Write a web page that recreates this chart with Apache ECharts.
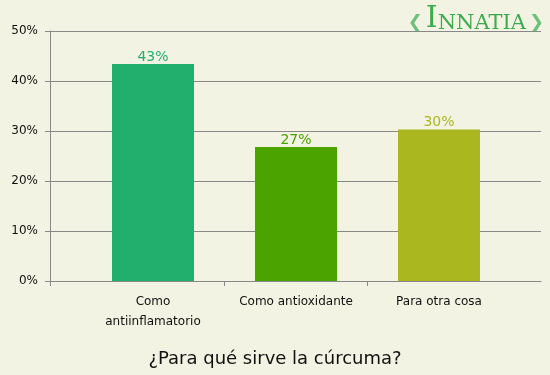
<!DOCTYPE html>
<html><head><meta charset="utf-8">
<script src="https://cdn.jsdelivr.net/npm/echarts@6/dist/echarts.min.js"></script>
<style>html,body{margin:0;padding:0;background:#F3F3E3}#c{width:550px;height:375px}</style>
</head><body><div id="c"></div>
<script>
const categories = ['Como\nantiinflamatorio', 'Como antioxidante', 'Para otra cosa'];
const values = [43.4, 26.8, 30.3];
const barColors = ['#22AE6C', '#4BA300', '#AAB71F'];
const yTicks = [0, 10, 20, 30, 40, 50];
const title = '¿Para qué sirve la cúrcuma?';

const xMin = -0.7203, xMax = 2.7133;
const chart = echarts.init(document.getElementById('c'), null, {renderer: 'canvas'});
chart.setOption({
  backgroundColor: '#F3F3E3',
  animation: false,
  textStyle: {fontFamily: 'DejaVu Sans'},
  title: {text: title, left: 'center', top: 345, textStyle: {fontFamily: 'DejaVu Sans', fontSize: 18, fontWeight: 'normal', color: '#111'}},
  grid: {left: 50, right: 9, top: 31, bottom: 94},
  xAxis: {
    type: 'value', min: xMin, max: xMax,
    splitLine: {show: false},
    axisLine: {show: true, onZero: false, lineStyle: {color: '#888', width: 1}},
    axisTick: {show: true, length: 5, lineStyle: {color: '#888'}, customValues: [xMin, 0.5, 1.5]},
    axisLabel: {customValues: [0, 1, 2], formatter: v => categories[Math.round(v)], color: '#111', fontSize: 12, lineHeight: 20, margin: 11, fontFamily: 'DejaVu Sans'}
  },
  yAxis: {
    type: 'value', min: 0, max: 50, interval: 10,
    axisLine: {show: true, onZero: false, lineStyle: {color: '#888'}},
    axisTick: {show: true, length: 5, lineStyle: {color: '#888'}},
    splitLine: {show: true, lineStyle: {color: '#888', width: 1}},
    axisLabel: {formatter: v => yTicks.includes(v) ? v + '%' : '', color: '#111', fontSize: 12, margin: 12, fontFamily: 'DejaVu Sans'}
  },
  series: [{
    type: 'bar',
    barWidth: 82,
    data: values.map((v, i) => ({value: [i, v], itemStyle: {color: barColors[i]}, label: {color: barColors[i]}})),
    label: {show: true, position: 'top', distance: 0, fontSize: 14, fontFamily: 'DejaVu Sans', formatter: p => Math.round(p.value[1]) + '%'}
  }],
  graphic: [{
    type: 'text', right: 6, top: 4,
    style: {
      text: '{d|❮}{b|I}{s|NNATIA}{d|❯}',
      rich: {
        b: {fontSize: 30, fontFamily: 'DejaVu Serif', fill: '#3DAA4E', verticalAlign: 'bottom'},
        s: {fontSize: 21, fontFamily: 'DejaVu Serif', fill: '#3DAA4E', verticalAlign: 'bottom'},
        d: {fontSize: 18, fontFamily: 'DejaVu Sans', fill: '#6CC07A', verticalAlign: 'bottom', padding: [0, 3, 2, 3]}
      }
    }
  }]
});
</script></body></html>
